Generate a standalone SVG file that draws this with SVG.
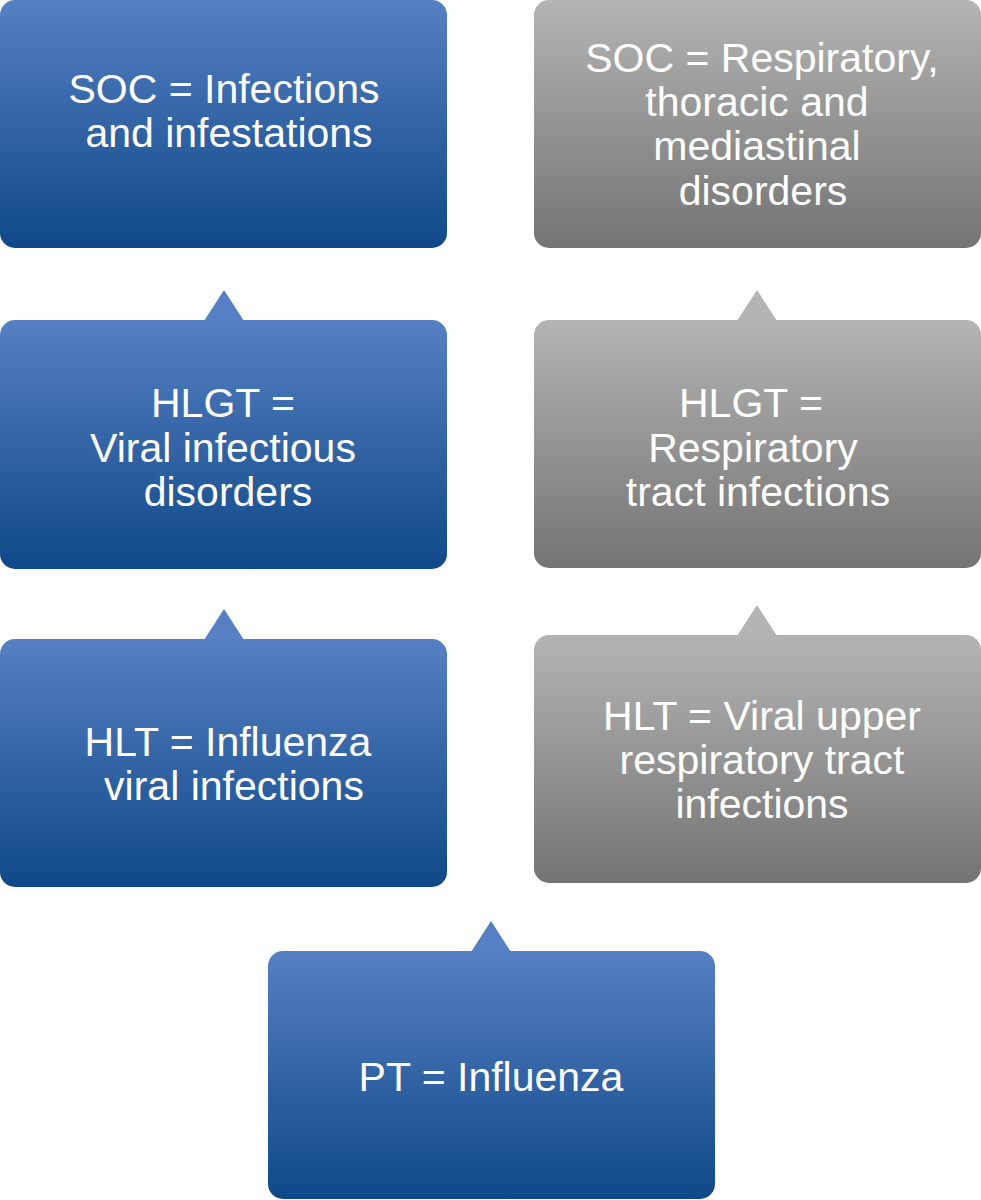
<svg xmlns="http://www.w3.org/2000/svg" width="981" height="1200" viewBox="0 0 981 1200">
  <defs>
    <linearGradient id="gBlue" x1="0" y1="0" x2="0" y2="1">
      <stop offset="0" stop-color="#5680C3"/>
      <stop offset="1" stop-color="#0F4888"/>
    </linearGradient>
    <linearGradient id="gGrey" x1="0" y1="0" x2="0" y2="1">
      <stop offset="0" stop-color="#B4B4B4"/>
      <stop offset="1" stop-color="#747474"/>
    </linearGradient>
    <style>
      .blue { fill: url(#gBlue); }
      .grey { fill: url(#gGrey); }
      .tb { fill: #5680C3; }
      .tg { fill: #B4B4B4; }
      .lbl { font-family: "Liberation Sans", Arial, sans-serif; font-size: 41px; fill: #FFFFFF; text-anchor: middle; }
    </style>
  </defs>
  <rect width="981" height="1200" fill="#FFFFFF"/>

  <g id="connectors">
    <polygon class="tb" points="204,321 224,290 244,321"/>
    <polygon class="tb" points="204,640 224,609 244,640"/>
    <polygon class="tg" points="737,321 757,290 777,321"/>
    <polygon class="tg" points="737,636 757,605 777,636"/>
    <polygon class="tb" points="471,952 491,921 511,952"/>
  </g>

  <g id="soc-infections">
    <rect class="blue" x="0" y="0" width="447" height="248" rx="15" ry="15"/>
    <text class="lbl" x="224" y="103">SOC = Infections</text>
    <text class="lbl" x="229" y="147">and infestations</text>
  </g>

  <g id="hlgt-viral">
    <rect class="blue" x="0" y="320" width="447" height="249" rx="15" ry="15"/>
    <text class="lbl" x="223" y="417">HLGT =</text>
    <text class="lbl" x="223" y="462">Viral infectious</text>
    <text class="lbl" x="228" y="506">disorders</text>
  </g>

  <g id="hlt-influenza">
    <rect class="blue" x="0" y="639" width="447" height="248" rx="15" ry="15"/>
    <text class="lbl" x="228" y="756">HLT = Influenza</text>
    <text class="lbl" x="234" y="800">viral infections</text>
  </g>

  <g id="soc-respiratory">
    <rect class="grey" x="534" y="0" width="447" height="248" rx="15" ry="15"/>
    <text class="lbl" x="762" y="72">SOC = Respiratory,</text>
    <text class="lbl" x="757" y="116">thoracic and</text>
    <text class="lbl" x="757" y="160">mediastinal</text>
    <text class="lbl" x="763" y="205">disorders</text>
  </g>

  <g id="hlgt-respiratory">
    <rect class="grey" x="534" y="320" width="447" height="248" rx="15" ry="15"/>
    <text class="lbl" x="751" y="417">HLGT =</text>
    <text class="lbl" x="753" y="462">Respiratory</text>
    <text class="lbl" x="758" y="506">tract infections</text>
  </g>

  <g id="hlt-viral-urti">
    <rect class="grey" x="534" y="635" width="447" height="248" rx="15" ry="15"/>
    <text class="lbl" x="762" y="730">HLT = Viral upper</text>
    <text class="lbl" x="762" y="774">respiratory tract</text>
    <text class="lbl" x="762" y="818">infections</text>
  </g>

  <g id="pt-influenza">
    <rect class="blue" x="268" y="951" width="447" height="248" rx="15" ry="15"/>
    <text class="lbl" x="491" y="1091">PT = Influenza</text>
  </g>
</svg>
